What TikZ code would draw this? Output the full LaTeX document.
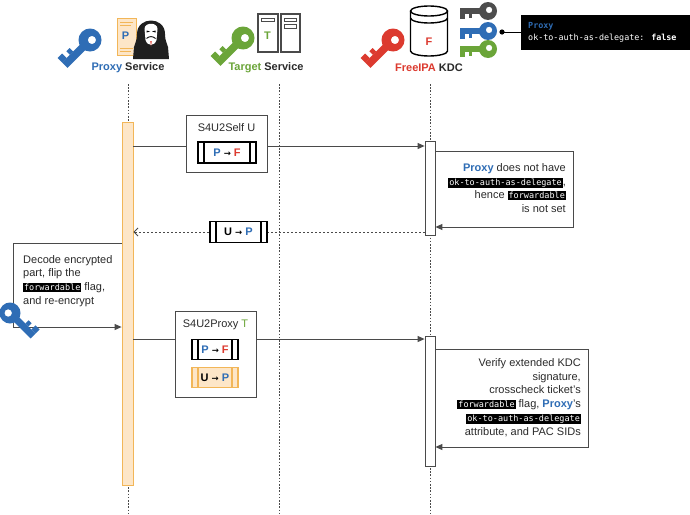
\documentclass[tikz,border=0pt]{standalone}
\usepackage{fontspec}
\setmainfont{Liberation Sans}
\newfontfamily\codefont{DejaVu Sans Mono}
\newfontfamily\symfont{DejaVu Sans}
\usetikzlibrary{arrows.meta,calc}

\definecolor{proxyblue}{HTML}{2F6DB5}
\definecolor{targetgreen}{HTML}{6BA539}
\definecolor{kdcred}{HTML}{DC3A2F}
\definecolor{barorange}{HTML}{F2B658}
\definecolor{barfill}{HTML}{FDE6C8}
\definecolor{ink}{HTML}{2A2A2A}
\definecolor{linegray}{HTML}{4A4A4A}
\definecolor{keygray}{HTML}{4D4D4D}

% inline code snippet on a black band
\newcommand\hlcode[1]{{\setlength{\fboxsep}{0.9pt}\colorbox{black}{\textcolor{white}{\codefont\fontsize{8.5}{9}\selectfont #1}}}}
\newcommand\tarrow{\ {\symfont\fontsize{8.5}{9}\selectfont →}\ }

\tikzset{
  lifeline/.style={linegray, line width=0.9pt, dash pattern=on 1.6pt off 1.6pt},
  msg/.style={linegray, line width=0.9pt, -{Triangle[length=7pt,width=6pt]}},
  reply/.style={linegray, line width=0.9pt, dash pattern=on 2pt off 2pt, -{Straight Barb[length=4pt,width=8pt]}},
  selfmsg/.style={linegray, line width=0.9pt, -{Triangle[length=7pt,width=6pt]}},
  actbar/.style={draw=linegray, fill=white, line width=0.8pt, minimum width=10pt, inner sep=0pt},
  proxybar/.style={draw=barorange, fill=barfill, line width=0.8pt, minimum width=11pt, inner sep=0pt},
  msgbox/.style={draw=linegray, fill=white, line width=0.9pt, inner sep=0pt},
  ticket/.style={draw=black, fill=white, line width=1.3pt, minimum height=21pt, inner sep=0pt,
    font=\bfseries\fontsize{11}{12}\selectfont,
    path picture={
      \draw[line width=1.3pt] ([xshift=6pt]path picture bounding box.south west) -- ([xshift=6pt]path picture bounding box.north west);
      \draw[line width=1.3pt] ([xshift=-6pt]path picture bounding box.south east) -- ([xshift=-6pt]path picture bounding box.north east);
    }},
  oticket/.style={ticket, draw=barorange, fill=barfill,
    path picture={
      \draw[barorange, line width=1.1pt] ([xshift=6pt]path picture bounding box.south west) -- ([xshift=6pt]path picture bounding box.north west);
      \draw[barorange, line width=1.1pt] ([xshift=-6pt]path picture bounding box.south east) -- ([xshift=-6pt]path picture bounding box.north east);
    }},
  note/.style={text=ink, font=\fontsize{11}{13.8}\selectfont, inner sep=0pt},
  actor/.style={text=ink, font=\bfseries\fontsize{11}{13}\selectfont, inner sep=0pt},
  % key with its bit below the shaft
  key/.pic={
    \fill[even odd rule] (0,0) circle (10) (1.2,-1.2) circle (3.6);
    \fill (-31,-3.3) rectangle (-6,3.3);
    \fill (-31,3.3) rectangle (-25.5,8.8);
    \fill (-21.5,3.3) rectangle (-17.5,7.6);
  },
  % key with its bit above the shaft
  keyup/.pic={
    \fill[even odd rule] (0,0) circle (10) (1.2,1.2) circle (3.6);
    \fill (-31,-3.3) rectangle (-6,3.3);
    \fill (-31,-3.3) rectangle (-25.5,-8.8);
    \fill (-21.5,-3.3) rectangle (-17.5,-7.6);
  }
}

\begin{document}
\begin{tikzpicture}[x=1pt,y=-1pt]
\useasboundingbox (0,0) rectangle (690,514);
\fill[white] (0,0) rectangle (690,514);

% ---------- lifelines ----------
\coordinate (proxytop) at (128,84);
\coordinate (proxybot) at (128,514);
\coordinate (targettop) at (279,84);
\coordinate (targetbot) at (279,514);
\coordinate (kdctop) at (430,84);
\coordinate (kdcbot) at (430,514);
\draw[lifeline] (proxytop) -- (proxybot);
\draw[lifeline] (targettop) -- (targetbot);
\draw[lifeline] (kdctop) -- (kdcbot);

% ---------- actor: Proxy Service ----------
\pic[proxyblue, scale=1.15, rotate=45] at (90,40) {keyup};
% ticket document
\draw[barorange, fill=barfill, line width=1pt] (117,18) rectangle (136,55);
\draw[barorange, line width=0.8pt] (120,22) -- (133,22) (120,25.5) -- (131,25.5)
  (120,48) -- (133,48) (120,51.5) -- (131,51.5);
\node[text=proxyblue, font=\bfseries\fontsize{11}{12}\selectfont, inner sep=0pt] (docp) at (125.5,36) {P};
% hooded figure
\fill[black!88] (133,59) -- (134,47) .. controls (135,43) and (137,41) .. (137,34)
  .. controls (137,16) and (165,16) .. (165,34)
  .. controls (165,41) and (167,43) .. (168,47) -- (169,59) -- cycle;
\fill[white] (144.5,29) .. controls (144.5,22) and (157.5,22) .. (157.5,29)
  -- (156.5,40) .. controls (154.5,46.5) and (147.5,46.5) .. (145.5,40) -- cycle;
\fill[black] (146.5,30.5) -- (150,31.5) -- (146.5,32.5) -- cycle;
\fill[black] (155.5,30.5) -- (152,31.5) -- (155.5,32.5) -- cycle;
\draw[black, line width=0.9pt] (146.5,38.5) .. controls (149,36) and (153,36) .. (155.5,38.5);
\fill[kdcred!70] (150,41) -- (152,41) -- (151,46.5) -- cycle;
\node[actor] (proxylabel) at (128,68) {\textcolor{proxyblue}{Proxy} Service};

% ---------- actor: Target Service ----------
\pic[targetgreen, scale=1.15, rotate=45] at (243,38) {keyup};
\draw[linegray, fill=white, line width=1.3pt] (258,14) rectangle (278,52);
\draw[linegray, fill=white, line width=1.3pt] (281,14) rectangle (300,52);
\draw[linegray, line width=1pt] (261.5,18) rectangle (274.5,21.5);
\draw[linegray, line width=1pt] (284.5,18) rectangle (296.5,21.5);
\draw[linegray, line width=1pt] (284.5,24.5) rectangle (296.5,28);
\node[text=targetgreen, font=\bfseries\fontsize{11}{12}\selectfont, inner sep=0pt] (servert) at (267.5,36) {T};
\node[actor] (targetlabel) at (266,68) {\textcolor{targetgreen}{Target} Service};

% ---------- actor: FreeIPA KDC ----------
\pic[kdcred, scale=1.15, rotate=45] at (393,40) {keyup};
\draw[black, fill=white, line width=1.4pt] (410.5,11) -- (410.5,51)
  arc[start angle=180, end angle=0, x radius=18.5, y radius=5] -- (447.5,11);
\draw[black, fill=white, line width=1.4pt] (429,11) ellipse[x radius=18.5, y radius=5];
\draw[black, line width=1.4pt] (410.5,18) arc[start angle=180, end angle=0, x radius=18.5, y radius=5];
\node[text=kdcred, font=\bfseries\fontsize{11}{12}\selectfont, inner sep=0pt] (dbf) at (429,42) {F};
\node[actor] (kdclabel) at (429,68) {\textcolor{kdcred}{FreeIPA} KDC};
% principal keys held by the KDC
\pic[keygray, scale=0.9] at (488,11) {key};
\pic[proxyblue, scale=0.9] at (488,31) {key};
\pic[targetgreen, scale=0.9] at (488,49) {key};
% Proxy principal attribute
\node[fill=black, anchor=north west, minimum width=169pt, minimum height=35pt, inner sep=0pt] (attrbox) at (521,15) {};
\node[anchor=west, align=left, inner sep=0pt, font=\codefont\fontsize{8.4}{12.5}\selectfont] (attrtext) at (528,32.5)
  {\textcolor{proxyblue}{\bfseries Proxy}\\ \textcolor{white}{ok-to-auth-as-delegate: \textbf{false}}};
\fill[black] (502,32) circle (2.6);
\coordinate (attrdot) at (502,32);
\draw[black, line width=1pt] (attrdot) -- (attrbox.west |- attrdot);

% ---------- activation bars ----------
\node[proxybar, minimum height=363pt] (pbar) at (127.5,303.5) {};
\node[actbar, minimum height=94pt] (kbar1) at (430,188) {};
\node[actbar, minimum height=130pt] (kbar2) at (430,401) {};

% ---------- S4U2Self request ----------
\coordinate (y1) at (0,146);
\draw[msg] (pbar.east |- y1) -- (kbar1.west |- y1);
\node[msgbox, minimum width=81pt, minimum height=57pt] (selfbox) at (226.5,143.5) {};
\node[note] (selftitle) at (226.5,128) {S4U2Self U};
\node[ticket, minimum width=58pt] (selfticket) at (227,152.5)
  {\textcolor{proxyblue}{P}\tarrow\textcolor{kdcred}{F}};

% ---------- KDC check 1 ----------
\coordinate (k1a) at (573,151);
\coordinate (k1b) at (573,227);
\draw[selfmsg] (kbar1.east |- k1a) -- (k1a) -- (k1b) -- (kbar1.east |- k1b);
\node[note, align=right, anchor=east] (kdcnote1) at (566,188)
  {\textcolor{proxyblue}{\bfseries Proxy} does not have\\
   \hlcode{ok-to-auth-as-delegate},\\
   hence \hlcode{forwardable}\\
   is not set};

% ---------- S4U2Self reply ----------
\coordinate (y2) at (0,232);
\draw[reply] (kbar1.west |- y2) -- (pbar.east |- y2);
\node[ticket, minimum width=57pt] (replyticket) at (238.5,232)
  {U\tarrow\textcolor{proxyblue}{P}};

% ---------- Proxy tampering ----------
\coordinate (lpa) at (13,243);
\coordinate (lpb) at (13,327);
\draw[selfmsg] (pbar.west |- lpa) -- (lpa) -- (lpb) -- (pbar.west |- lpb);
\node[note, align=left, anchor=north west] (flipnote) at (23,255)
  {Decode encrypted\\ part, flip the\\ \hlcode{forwardable} flag,\\ and re-encrypt};
\pic[proxyblue, scale=1.05, rotate=135] at (10,313) {key};

% ---------- S4U2Proxy request ----------
\coordinate (y3) at (0,339);
\draw[msg] (pbar.east |- y3) -- (kbar2.west |- y3);
\node[msgbox, minimum width=81pt, minimum height=86pt] (proxybox) at (215.5,354.5) {};
\node[note] (proxytitle) at (215.5,324.5) {S4U2Proxy \textcolor{targetgreen}{T}};
\node[ticket, minimum width=46pt, minimum height=20pt] (evidence1) at (215,349.5)
  {\textcolor{proxyblue}{P}\tarrow\textcolor{kdcred}{F}};
\node[oticket, minimum width=46pt, minimum height=20pt] (evidence2) at (215,377.5)
  {U\tarrow\textcolor{proxyblue}{P}};

% ---------- KDC check 2 ----------
\coordinate (k2a) at (588,349);
\coordinate (k2b) at (588,447);
\draw[selfmsg] (kbar2.east |- k2a) -- (k2a) -- (k2b) -- (kbar2.east |- k2b);
\node[note, align=right, anchor=east] (kdcnote2) at (581,397.5)
  {Verify extended KDC\\ signature,\\ crosscheck ticket's\\
   \hlcode{forwardable} flag, \textcolor{proxyblue}{\bfseries Proxy}'s\\
   \hlcode{ok-to-auth-as-delegate}\\ attribute, and PAC SIDs};

\end{tikzpicture}
\end{document}
